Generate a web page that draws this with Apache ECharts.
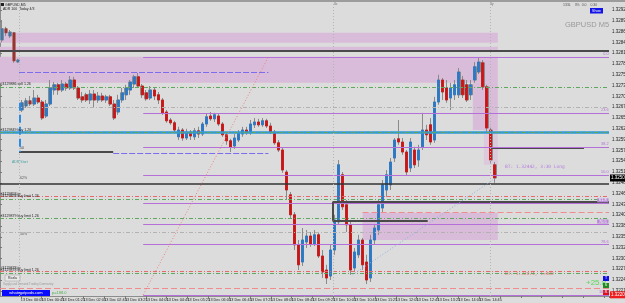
<!DOCTYPE html>
<html>
<head>
<meta charset="utf-8">
<script src="https://cdn.jsdelivr.net/npm/echarts@6/dist/echarts.min.js"></script>
<style>
  html, body { margin: 0; padding: 0; background: #dcdcdc; }
  #main { width: 625px; height: 303px; }
</style>
</head>
<body>
<div id="main"></div>
<script>
// GBPUSD M5 candles: [open, close, low, high]
const candles = [
  [1.32846, 1.32874, 1.32841, 1.32896],
  [1.32874, 1.32864, 1.32856, 1.32879],
  [1.32856, 1.32866, 1.32851, 1.32871],
  [1.32864, 1.32794, 1.32789, 1.32866],
  [1.32791, 1.32796, 1.32789, 1.32799],
  [1.32671, 1.32689, 1.32666, 1.32696],
  [1.32681, 1.32694, 1.32676, 1.32701],
  [1.32694, 1.32686, 1.32681, 1.32706],
  [1.32686, 1.32701, 1.32681, 1.32721],
  [1.32701, 1.32691, 1.32686, 1.32709],
  [1.32691, 1.32651, 1.32646, 1.32696],
  [1.32656, 1.32686, 1.32651, 1.32696],
  [1.32686, 1.32726, 1.32681, 1.32746],
  [1.32721, 1.32734, 1.32709, 1.32741],
  [1.32734, 1.32721, 1.32709, 1.32739],
  [1.32721, 1.32736, 1.32716, 1.32746],
  [1.32736, 1.32726, 1.32719, 1.32741],
  [1.32726, 1.32746, 1.32721, 1.32756],
  [1.32746, 1.32726, 1.32721, 1.32754],
  [1.32726, 1.32701, 1.32696, 1.32731],
  [1.32704, 1.32696, 1.32689, 1.32716],
  [1.32709, 1.32696, 1.32691, 1.32714],
  [1.32696, 1.32711, 1.32686, 1.32721],
  [1.32711, 1.32696, 1.32676, 1.32721],
  [1.32696, 1.32706, 1.32689, 1.32716],
  [1.32706, 1.32696, 1.32691, 1.32714],
  [1.32696, 1.32704, 1.32689, 1.32709],
  [1.32704, 1.32686, 1.32681, 1.32709],
  [1.32686, 1.32651, 1.32646, 1.32696],
  [1.32666, 1.32696, 1.32659, 1.32709],
  [1.32696, 1.32714, 1.32689, 1.32726],
  [1.32709, 1.32726, 1.32696, 1.32734],
  [1.32721, 1.32741, 1.32709, 1.32746],
  [1.32736, 1.32754, 1.32726, 1.32759],
  [1.32754, 1.32731, 1.32726, 1.32764],
  [1.32731, 1.32709, 1.32701, 1.32736],
  [1.32714, 1.32699, 1.32694, 1.32721],
  [1.32701, 1.32721, 1.32696, 1.32731],
  [1.32721, 1.32706, 1.32696, 1.32726],
  [1.32709, 1.32696, 1.32686, 1.32716],
  [1.32696, 1.32664, 1.32659, 1.32701],
  [1.32666, 1.32644, 1.32639, 1.32671],
  [1.32646, 1.32639, 1.32634, 1.32651],
  [1.32639, 1.32621, 1.32614, 1.32644],
  [1.32604, 1.32621, 1.32596, 1.32629],
  [1.32621, 1.32601, 1.32594, 1.32626],
  [1.32601, 1.32616, 1.32596, 1.32624],
  [1.32616, 1.32606, 1.32596, 1.32621],
  [1.32604, 1.32619, 1.32596, 1.32626],
  [1.32619, 1.32611, 1.32601, 1.32629],
  [1.32611, 1.32636, 1.32606, 1.32641],
  [1.32636, 1.32654, 1.32629, 1.32661],
  [1.32656, 1.32649, 1.32644, 1.32666],
  [1.32649, 1.32659, 1.32641, 1.32664],
  [1.32656, 1.32636, 1.32631, 1.32661],
  [1.32636, 1.32609, 1.32604, 1.32641],
  [1.32609, 1.32594, 1.32584, 1.32614],
  [1.32594, 1.32579, 1.32566, 1.32599],
  [1.32581, 1.32601, 1.32574, 1.32611],
  [1.32596, 1.32614, 1.32591, 1.32621],
  [1.32611, 1.32621, 1.32604, 1.32629],
  [1.32621, 1.32614, 1.32609, 1.32629],
  [1.32614, 1.32636, 1.32609, 1.32646],
  [1.32634, 1.32641, 1.32626, 1.32651],
  [1.32641, 1.32634, 1.32629, 1.32649],
  [1.32634, 1.32644, 1.32629, 1.32651],
  [1.32644, 1.32631, 1.32626, 1.32649],
  [1.32631, 1.32616, 1.32611, 1.32639],
  [1.32616, 1.32589, 1.32584, 1.32621],
  [1.32589, 1.32571, 1.32566, 1.32596],
  [1.32571, 1.32521, 1.32514, 1.32576],
  [1.32516, 1.32471, 1.32446, 1.32521],
  [1.32459, 1.32409, 1.32401, 1.32466],
  [1.32409, 1.32334, 1.32321, 1.32416],
  [1.32334, 1.32284, 1.32271, 1.32346],
  [1.32291, 1.32346, 1.32281, 1.32376],
  [1.32341, 1.32356, 1.32326, 1.32371],
  [1.32356, 1.32336, 1.32329, 1.32366],
  [1.32336, 1.32359, 1.32331, 1.32371],
  [1.32359, 1.32306, 1.32301, 1.32364],
  [1.32306, 1.32266, 1.32251, 1.32321],
  [1.32271, 1.32251, 1.32236, 1.32284],
  [1.32256, 1.32321, 1.32246, 1.32334],
  [1.32321, 1.32396, 1.32309, 1.32409],
  [1.32391, 1.32534, 1.32384, 1.32546],
  [1.32509, 1.32429, 1.32421, 1.32516],
  [1.32434, 1.32384, 1.32366, 1.32446],
  [1.32384, 1.32271, 1.32259, 1.32396],
  [1.32276, 1.32316, 1.32266, 1.32326],
  [1.32309, 1.32346, 1.32301, 1.32359],
  [1.32346, 1.32284, 1.32271, 1.32351],
  [1.32291, 1.32246, 1.32236, 1.32309],
  [1.32251, 1.32346, 1.32241, 1.32359],
  [1.32346, 1.32376, 1.32334, 1.32386],
  [1.32371, 1.32434, 1.32359, 1.32446],
  [1.32426, 1.32484, 1.32414, 1.32496],
  [1.32471, 1.32509, 1.32454, 1.32521],
  [1.32484, 1.32541, 1.32471, 1.32551],
  [1.32551, 1.32596, 1.32541, 1.32601],
  [1.32599, 1.32591, 1.32584, 1.32646],
  [1.32591, 1.32566, 1.32559, 1.32601],
  [1.32566, 1.32516, 1.32506, 1.32571],
  [1.32526, 1.32591, 1.32516, 1.32601],
  [1.32571, 1.32534, 1.32526, 1.32579],
  [1.32546, 1.32571, 1.32529, 1.32584],
  [1.32579, 1.32621, 1.32571, 1.32664],
  [1.32621, 1.32609, 1.32596, 1.32634],
  [1.32634, 1.32591, 1.32584, 1.32651],
  [1.32596, 1.32691, 1.32589, 1.32704],
  [1.32691, 1.32746, 1.32684, 1.32759],
  [1.32746, 1.32716, 1.32696, 1.32751],
  [1.32726, 1.32696, 1.32689, 1.32746],
  [1.32701, 1.32726, 1.32671, 1.32739],
  [1.32709, 1.32734, 1.32696, 1.32746],
  [1.32709, 1.32766, 1.32701, 1.32776],
  [1.32746, 1.32709, 1.32701, 1.32756],
  [1.32734, 1.32696, 1.32691, 1.32746],
  [1.32709, 1.32734, 1.32696, 1.32746],
  [1.32746, 1.32779, 1.32739, 1.32791],
  [1.32766, 1.32791, 1.32761, 1.32801],
  [1.32789, 1.32729, 1.32721, 1.32796],
  [1.32729, 1.32626, 1.32616, 1.32734],
  [1.32621, 1.32546, 1.32539, 1.32629],
  [1.32534, 1.32501, 1.32489, 1.32541]
];

// price scale (right axis)
const yMin = 1.32206, yMax = 1.329385;
const tickBase = 1.32219, tickStep = 0.00027;
const barCount = 152;          // chart width in bars, incl. right shift
const timeStep = 5.2;          // bars between time labels
const timeLabels = ['13 Dec 2019', '13 Dec 00:05', '13 Dec 00:45', '13 Dec 01:25', '13 Dec 02:05',
  '13 Dec 02:45', '13 Dec 03:25', '13 Dec 04:05', '13 Dec 04:45', '13 Dec 05:25', '13 Dec 06:05',
  '13 Dec 06:45', '13 Dec 07:25', '13 Dec 08:05', '13 Dec 08:45', '13 Dec 09:25', '13 Dec 10:05',
  '13 Dec 10:45', '13 Dec 11:25', '13 Dec 12:05', '13 Dec 12:45', '13 Dec 13:25', '13 Dec 14:05',
  '13 Dec 14:45'];

// zones: [fromBar, toBar, high, low]
const supplyZones = [[0, 124.25, 1.32864, 1.32839], [0, 124.25, 1.32829, 1.32819],
  [0, 124.25, 1.32804, 1.32739], [118, 124.25, 1.32739, 1.32621]];
const paleZones = [[120.75, 124.25, 1.32621, 1.32534]];
const demandZones = [[90.5, 124.25, 1.32414, 1.32346]];

// fibo retracement drawn from bar 35.75 (100%) to bar 67 (0%)
const fiboLevels = [1.32804, 1.32664, 1.32579, 1.32509, 1.32439, 1.32386, 1.32336, 1.32209];
const fiboNames = ['0.0', '23.6', '38.2', '50.0', '61.8', '70.5', '78.6', '100.0'];
const fiboFrom = 35.75, fiboTo = 67;

// order lines (left tags)
const orderLevels = [1.32729, 1.32616, 1.32449, 1.32401, 1.32264];
const orderTags = ['#4129886 sell 1.26', '#4129849 buy 1.26', '#4129858 buy limit 1.26',
  '#4129879 buy limit 1.26', '#4129878 buy limit 1.26'];
const tpLevels = [1.32456, 1.32269];
const tpTags = ['#4129858 tp', '#4129878 tp'];
const greyLevels = [1.32679, 1.32366];
const blackLevels = [1.32819, 1.32486];
const salmonLevels = [1.32226];
const adrLevel = 1.32616;

// segments: [fromBar, toBar, price]
const darkSegments = [[122.5, 145.75, 1.32576], [4.75, 28.25, 1.32566], [83, 152, 1.32441], [83, 106.75, 1.32394]];
const dashSegments = [[4.75, 67, 1.32766], [28.25, 67, 1.32564]];
const salmonSegments = [[90.5, 152, 1.32416]];
const dayLines = [4.75, 83.25, 122.25];
const boxEdge = [83, 1.32441, 1.32394];
const adrBar = [4.9, 1.32689, 1.32566];
const trendLine = [[88, 1.32259], [123.75, 1.32501]];

const FONT = 'Liberation Sans';
const S = {
  dark: { color: '#4a4a4a', width: 2, type: 'solid' },
  purple: { color: '#b56fd8', width: 1.2, type: 'solid' },
  green: { color: '#5fa65f', width: 1, type: [4, 2, 1, 2] },
  red: { color: '#e66a6a', width: 1, type: [4, 2, 1, 2] },
  grey: { color: '#b2b2b2', width: 1, type: [4, 2, 1, 2] },
  black: { color: '#333333', width: 1.5, type: 'solid' },
  blueDash: { color: '#7b6cf0', width: 1.2, type: [6, 2] },
  salmon: { color: '#f08c8c', width: 1.2, type: [6, 3] },
  steel: { color: '#2f9ad8', width: 2.5, type: 'solid' },
  day: { color: '#b4b4b4', width: 1, type: [1, 2] },
  hidden: { color: 'rgba(0,0,0,0)', width: 1, type: 'solid' }
};
const noLabel = { show: false };
function tag(text) {
  return { show: true, position: 'insideStartTop', formatter: text, fontSize: 3.6,
    color: '#222', distance: 0.5, fontFamily: FONT };
}
function priceTag(p, bg) {
  return { show: true, position: 'end', distance: 1, formatter: p.toFixed(5),
    backgroundColor: bg, color: '#fff', fontSize: 4.5, padding: [1, 1], fontFamily: FONT };
}
function seg(x0, p0, x1, p1, style, label) {
  return [{ coord: [x0, p0], lineStyle: style, label: label || noLabel }, { coord: [x1, p1] }];
}
function hLine(p, style, label) { return seg(0, p, barCount, p, style, label); }
function area(z, color) {
  return [{ coord: [z[0], z[2]], itemStyle: { color: color } }, { coord: [z[1], z[3]] }];
}

const lines = [];
greyLevels.forEach(p => lines.push(hLine(p, S.grey)));
lines.push(hLine(adrLevel, S.steel));
blackLevels.forEach(p => lines.push(hLine(p, p === blackLevels[0] ? S.dark : S.black)));
orderLevels.forEach((p, i) => lines.push(hLine(p, S.green, tag(orderTags[i]))));
tpLevels.forEach((p, i) => lines.push(hLine(p, S.red, tag(tpTags[i]))));
salmonLevels.forEach(p => lines.push(hLine(p, S.salmon)));
darkSegments.forEach(s => lines.push(seg(s[0], s[2], s[1], s[2], S.dark)));
dashSegments.forEach(s => lines.push(seg(s[0], s[2], s[1], s[2], S.blueDash)));
salmonSegments.forEach(s => lines.push(seg(s[0], s[2], s[1], s[2], S.salmon)));
fiboLevels.forEach((p, i) => {
  const boxed = fiboNames[i] === '61.8' || fiboNames[i] === '70.5';
  lines.push(seg(fiboFrom, p, barCount, p, S.purple, {
    show: true, position: 'insideEndTop', formatter: fiboNames[i], fontSize: 3.8,
    color: boxed ? '#fff' : '#b56fd8', backgroundColor: boxed ? '#b98ad6' : 'transparent',
    padding: boxed ? [0, 2] : 0, distance: 0.5, fontFamily: FONT
  }));
});
const fiboLast = fiboLevels[fiboLevels.length - 1];
dayLines.forEach(x => lines.push(seg(x, yMin, x, yMax, S.day)));
lines.push(seg(boxEdge[0], boxEdge[1], boxEdge[0], boxEdge[2], S.dark));
lines.push(seg(adrBar[0], adrBar[1], adrBar[0], adrBar[2], { color: '#2f8be0', width: 2 }));
lines.push(seg(fiboFrom, fiboLast, fiboTo, fiboLevels[0], { color: '#f08080', width: 1, type: [1, 2] }));
lines.push(seg(trendLine[0][0], trendLine[0][1], trendLine[1][0], trendLine[1][1],
  { color: '#8fb0e0', width: 1, type: [1, 2] }));

const lastClose = candles[candles.length - 1][1];
// tags on the price scale: bottom fibo level and current price
lines.push(hLine(fiboLast, S.hidden, priceTag(fiboLast, '#ee1c1c')));
lines.push(hLine(lastClose, S.hidden, priceTag(lastClose, '#000000')));

const areas = [];
supplyZones.forEach(z => areas.push(area(z, '#d9bcd9')));
paleZones.forEach(z => areas.push(area(z, '#dccadc')));
demandZones.forEach(z => areas.push(area(z, '#d9bcd9')));

const bodies = candles.map(c => [c[0], c[1], Math.min(c[0], c[1]), Math.max(c[0], c[1])]);
const cats = Array.from({ length: barCount }, (_, i) => i);

function txt(x, y, text, size, fill, family) {
  return { type: 'text', x: x, y: y, silent: true,
    style: { text: text, fontSize: size, fill: fill, fontFamily: family || FONT, verticalAlign: 'top' } };
}
function box(x, y, w, h, fill, label, size, stroke) {
  return { type: 'group', x: x, y: y, silent: true, children: [
    { type: 'rect', shape: { x: 0, y: 0, width: w, height: h },
      style: { fill: fill, stroke: stroke || null, lineWidth: 0.5 } },
    { type: 'text', x: w / 2, y: h / 2, style: { text: label, fontSize: size, fill: stroke ? '#333' : '#fff',
      fontFamily: FONT, align: 'center', verticalAlign: 'middle' } }
  ] };
}

const chart = echarts.init(document.getElementById('main'), null, { renderer: 'canvas' });
chart.setOption({
  animation: false,
  backgroundColor: '#dcdcdc',
  grid: [
    { left: 0, right: 16, top: 3, bottom: 7, outerBoundsMode: 'none' },
    { left: 0, right: 16, top: 3, bottom: 12.2, outerBoundsMode: 'none' }
  ],
  xAxis: [
    { type: 'category', data: cats, gridIndex: 0, show: false, boundaryGap: true },
    { type: 'value', gridIndex: 0, min: 0, max: barCount, interval: timeStep, position: 'bottom',
      axisLine: { show: true, lineStyle: { color: '#8c8c8c', width: 1 } },
      axisTick: { show: true, length: 2, lineStyle: { color: '#777' } },
      splitLine: { show: false },
      axisLabel: { show: true, fontSize: 3.8, color: '#222', margin: 1.5, align: 'left', fontFamily: FONT,
        formatter: v => timeLabels[Math.round(v / timeStep)] || '' } },
    { type: 'value', gridIndex: 1, show: false, min: 0, max: 1 }
  ],
  yAxis: [
    { type: 'value', gridIndex: 0, position: 'right', min: yMin, max: yMax,
      axisLine: { show: true, lineStyle: { color: '#8c8c8c' } },
      axisTick: { show: false }, axisLabel: { show: false }, splitLine: { show: false } },
    { type: 'value', gridIndex: 1, position: 'right', min: tickBase, max: yMax, interval: tickStep,
      axisLine: { show: false }, splitLine: { show: false },
      axisTick: { show: true, length: 2, lineStyle: { color: '#777' } },
      axisLabel: { show: true, fontSize: 4.5, color: '#222', margin: 3, fontFamily: FONT,
        showMaxLabel: false, formatter: v => v.toFixed(5) } }
  ],
  series: [
    { type: 'line', xAxisIndex: 1, yAxisIndex: 0, data: [], silent: true, z: 1,
      markArea: { silent: true, data: areas } },
    { type: 'candlestick', name: 'wick', xAxisIndex: 0, yAxisIndex: 0, data: candles, barWidth: 3,
      silent: true, z: 2,
      itemStyle: { color: '#8a8a8a', color0: '#8a8a8a', borderColor: '#8a8a8a', borderColor0: '#8a8a8a', borderWidth: 1 } },
    { type: 'candlestick', name: 'body', xAxisIndex: 0, yAxisIndex: 0, data: bodies, barWidth: 2.4,
      silent: true, z: 3,
      itemStyle: { color: '#2a78c8', color0: '#cc1414', borderColor: '#2a78c8', borderColor0: '#cc1414', borderWidth: 0.8 } },
    { type: 'line', xAxisIndex: 1, yAxisIndex: 0, data: [], silent: true, z: 4,
      markLine: { silent: true, symbol: ['none', 'none'], data: lines } }
  ],
  graphic: [
    { type: 'rect', shape: { x: 0, y: 0, width: 625, height: 2 }, style: { fill: '#9c9c9c' }, silent: true },
    { type: 'rect', shape: { x: 1, y: 3, width: 3, height: 3 }, style: { fill: '#222' }, silent: true },
    txt(5, 3, 'GBPUSD,M5', 3.5, '#222'),
    txt(3, 7.5, 'ADR 100  Today 4/3', 3.5, '#222'),
    txt(563, 3, '133L    3%  0.0    0.30', 3.5, '#555'),
    box(590, 8, 13, 5.5, '#1414e6', 'Show', 3.5),
    txt(565, 21, 'GBPUSD M5', 7.5, '#9a9a9a'),
    txt(334, 2.5, 'Sc', 3, '#667'),
    txt(490, 2.5, 'Sy', 3, '#667'),
    txt(20, 146, '50', 3.5, '#334'),
    txt(12, 160, 'ADR Start', 3.5, '#4aa0a0'),
    txt(20, 176, '62%', 3.5, '#555'),
    txt(20, 232, '50%', 3.5, '#555'),
    txt(505, 164, 'BT: 1.32442, 3:30 Long', 4.5, '#b47fdc', 'DejaVu Sans Mono'),
    txt(505, 271, 'BT: 1.32074, 1=400', 4.5, '#e07070', 'DejaVu Sans Mono'),
    txt(586, 279, '+25.8', 8, '#5cd65c'),
    box(603, 276, 6, 5, '#1010e0', 'T', 3.5),
    box(603, 283, 6, 5, '#228b22', 'S', 3.5),
    box(603, 290, 6, 5, '#e01010', 'R', 3.5),
    box(5, 275, 15, 6, '#e8e8e8', 'Rozla', 3.5, '#999'),
    txt(3, 283, 'Supply and Demand Trading Community', 2.8, '#9a9a9a'),
    box(2, 290, 48, 6, '#0a0aff', 'whatsgotpods.com', 4),
    txt(52, 290.5, 'p=188.0', 4, '#4caf50')
  ]
});
</script>
</body>
</html>
